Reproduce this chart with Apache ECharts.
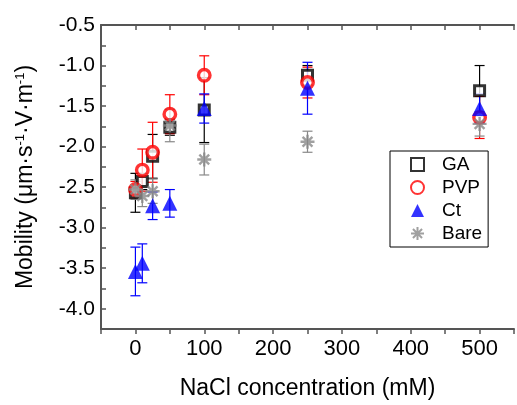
<!DOCTYPE html>
<html>
<head>
<meta charset="utf-8">
<script src="https://cdn.jsdelivr.net/npm/echarts@6/dist/echarts.min.js"></script>
<style>
  html, body { margin: 0; padding: 0; background: #fff; }
  #chart { width: 517px; height: 405px; }
</style>
</head>
<body>
<div id="chart"></div>
<script>
// NaCl concentration (mM)
const concentrations = [0, 10, 25, 50, 100, 250, 500];

// Electrophoretic mobility (mean and error) per coating
const gaMean   = [-2.57, -2.43, -2.12, -1.76, -1.55, -1.12, -1.31];
const gaErr    = [0.24, 0.10, 0.27, 0.10, 0.40, 0.12, 0.31];
const pvpMean  = [-2.53, -2.29, -2.07, -1.60, -1.12, -1.21, -1.64];
const pvpErr   = [0.10, 0.26, 0.37, 0.24, 0.24, 0.19, 0.26];
const ctMean   = [-3.54, -3.44, -2.73, -2.70, -1.53, -1.28, -1.53];
const ctErr    = [0.30, 0.24, 0.17, 0.17, 0.18, 0.32, 0.18];
const bareMean = [-2.53, -2.61, -2.55, -1.74, -2.16, -1.94, -1.72];
const bareErr  = [0.12, 0.13, 0.15, 0.20, 0.19, 0.13, 0.15];

const seriesNames = ['GA', 'PVP', 'Ct', 'Bare'];
const yTicks = { min: -4.25, max: -0.5, step: 0.25 };
const xTicks = { min: -50, max: 550, step: 50 };

const FONT = 'Liberation Sans, Arial, sans-serif';
const AXIS_COLOR = '#555';

const asterisk = 'path://M10,0 L10,20 M0,10 L20,10 M3,3 L17,17 M3,17 L17,3';

function points(means, errs) {
  return concentrations.map((c, i) => [c, means[i], errs[i]]);
}

function errorBars(name, means, errs, color) {
  return {
    type: 'custom',
    name: name + ' error',
    data: points(means, errs),
    encode: { x: 0, y: 1 },
    silent: true,
    renderItem: function (params, api) {
      const x = api.value(0), y = api.value(1), e = api.value(2);
      const top = api.coord([x, y + e]);
      const bot = api.coord([x, y - e]);
      const hw = 5;
      const style = { stroke: color, lineWidth: 1.2 };
      return {
        type: 'group',
        children: [
          { type: 'line', shape: { x1: top[0], y1: top[1], x2: bot[0], y2: bot[1] }, style: style },
          { type: 'line', shape: { x1: top[0] - hw, y1: top[1], x2: top[0] + hw, y2: top[1] }, style: style },
          { type: 'line', shape: { x1: bot[0] - hw, y1: bot[1], x2: bot[0] + hw, y2: bot[1] }, style: style }
        ]
      };
    }
  };
}

function markers(name, means, symbol, size, itemStyle) {
  return {
    type: 'scatter',
    name: name,
    data: concentrations.map((c, i) => [c, means[i]]),
    symbol: symbol,
    symbolSize: size,
    itemStyle: itemStyle,
    emphasis: { disabled: true }
  };
}

const chart = echarts.init(document.getElementById('chart'), null, { renderer: 'canvas' });

chart.setOption({
  animation: false,
  backgroundColor: '#fff',
  textStyle: { fontFamily: FONT },
  grid: { left: 101, top: 25, right: -2, bottom: 72 },
  legend: {
    data: seriesNames,
    orient: 'vertical',
    left: 390,
    top: 151,
    padding: [2, 6, 2, 20],
    itemWidth: 13,
    itemHeight: 13,
    itemGap: 0,
    borderColor: '#000',
    borderWidth: 1,
    textStyle: { fontFamily: FONT, fontSize: 19, color: '#000', lineHeight: 23, padding: [0, 0, 0, 13] }
  },
  xAxis: [
    {
      type: 'value',
      position: 'bottom',
      min: xTicks.min, max: xTicks.max, interval: xTicks.step,
      name: 'NaCl concentration (mM)',
      nameLocation: 'middle',
      nameGap: 48,
      nameTextStyle: { fontFamily: FONT, fontSize: 23, color: '#000' },
      axisLine: { onZero: false, lineStyle: { color: AXIS_COLOR, width: 2 } },
      axisTick: { inside: false, length: 5, lineStyle: { color: AXIS_COLOR, width: 1.5 } },
      axisLabel: {
        margin: 9,
        fontFamily: FONT, fontSize: 22, color: '#000',
        formatter: v => (v >= 0 && v <= 500 && v % 100 === 0) ? String(v) : ''
      },
      splitLine: { show: false }
    },
    {
      type: 'value',
      position: 'top',
      min: xTicks.min, max: xTicks.max, interval: xTicks.step,
      axisLine: { onZero: false, lineStyle: { color: AXIS_COLOR, width: 2 } },
      axisTick: { inside: true, length: 5, lineStyle: { color: AXIS_COLOR, width: 1.5 } },
      axisLabel: { show: false },
      splitLine: { show: false }
    }
  ],
  yAxis: {
    type: 'value',
    min: yTicks.min, max: yTicks.max, interval: yTicks.step,
    name: 'Mobility (μm·s{sup|-1}·V·m{sup|-1})',
    nameLocation: 'middle',
    nameRotate: 90,
    nameGap: 64,
    nameTextStyle: {
      fontFamily: FONT, fontSize: 23, color: '#000',
      rich: { sup: { fontFamily: FONT, fontSize: 13, color: '#000', verticalAlign: 'top', lineHeight: 14 } }
    },
    axisLine: { onZero: false, lineStyle: { color: AXIS_COLOR, width: 2 } },
    axisTick: { inside: true, length: 5, lineStyle: { color: AXIS_COLOR, width: 1.5 } },
    axisLabel: {
      margin: 6,
      fontFamily: FONT, fontSize: 21, color: '#000',
      formatter: v => Math.abs(v * 2 - Math.round(v * 2)) < 1e-6 ? v.toFixed(1) : ''
    },
    splitLine: { show: false }
  },
  series: [
    errorBars('GA', gaMean, gaErr, '#000'),
    markers('GA', gaMean, 'rect', 10, { color: '#fff', borderColor: '#000', borderWidth: 3 }),
    errorBars('PVP', pvpMean, pvpErr, '#ff0000'),
    markers('PVP', pvpMean, 'circle', 11.5, { color: '#fff', borderColor: '#ff0000', borderWidth: 3.4 }),
    errorBars('Ct', ctMean, ctErr, '#0000ff'),
    markers('Ct', ctMean, 'triangle', 15, { color: '#0000ff' }),
    errorBars('Bare', bareMean, bareErr, '#888'),
    markers('Bare', bareMean, asterisk, 14, { color: 'rgba(0,0,0,0)', borderColor: '#888', borderWidth: 2.4 })
  ]
});
</script>
</body>
</html>
